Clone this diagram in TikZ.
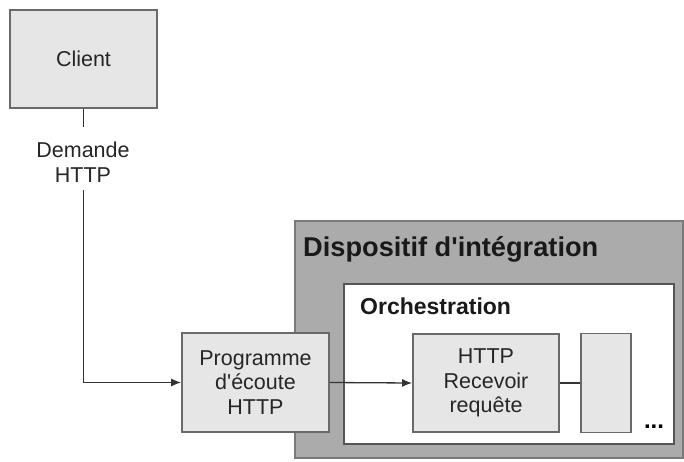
\documentclass[tikz,border=0pt]{standalone}
\usepackage{fontspec}
\setmainfont{Liberation Sans}[Ligatures=TeXOff]
\usetikzlibrary{arrows.meta}
\definecolor{boxfill}{HTML}{E6E6E6}
\definecolor{boxline}{HTML}{6A6A6A}
\definecolor{darkfill}{HTML}{ABABAB}
\definecolor{darkline}{HTML}{7A7A7A}
\definecolor{wire}{HTML}{333333}
\tikzset{
  lightbox/.style={draw=boxline, fill=boxfill, line width=1.8pt, inner sep=0pt, align=center, font=\fontsize{21.5}{24.5}\selectfont, text=black!85},
  wirestyle/.style={draw=wire, line width=1.3pt},
  arrowwire/.style={wirestyle, -{Latex[length=10pt,width=8pt]}},
  plaintext/.style={inner sep=0pt, align=center, font=\fontsize{21.5}{25}\selectfont, text=black!85},
}
\begin{document}
\begin{tikzpicture}[x=1pt,y=-1pt]
\useasboundingbox (0,0) rectangle (684,462);
\fill[white] (0,0) rectangle (684,462);
% outer containers
\draw[draw=darkline, fill=darkfill, line width=2pt] (295,221) rectangle (683,458);
\node[anchor=base west, inner sep=0pt, font=\fontsize{27.2}{30}\selectfont\bfseries, text=black!90] (title) at (303,256.7) {Dispositif d'intégration};
\draw[draw=boxline!80!black, fill=white, line width=1.8pt] (344,284) rectangle (674,444);
\node[anchor=base west, inner sep=0pt, font=\fontsize{23}{26}\selectfont\bfseries, text=black!90] (orch) at (360,314) {Orchestration};
% boxes
\node[lightbox, minimum width=147pt, minimum height=98pt] (client) at (83.5,59) {Client};
\node[lightbox, minimum width=147pt, minimum height=99pt] (listener) at (255.5,382.5) {Programme\\d'écoute\\HTTP};
\node[lightbox, minimum width=146pt, minimum height=98pt] (receive) at (486,383) {HTTP\\Recevoir\\requête};
\node[lightbox, minimum width=50pt, minimum height=99pt] (next) at (606,383) {};
\node[inner sep=0pt, font=\fontsize{24}{26}\selectfont\bfseries] (dots) at (654,427) {...};
% label
\node[plaintext] (label) at (83,162) {Demande\\HTTP};
\coordinate (labtop) at (83.5,127);
\coordinate (labbot) at (83.5,190);
% connectors
\draw[wirestyle] (client.south) -- (labtop);
\draw[arrowwire] (labbot) |- (listener.west);
\draw[arrowwire] (listener.east) -- (receive.west);
\draw[wirestyle] (receive.east) -- (next.west);
\end{tikzpicture}
\end{document}
